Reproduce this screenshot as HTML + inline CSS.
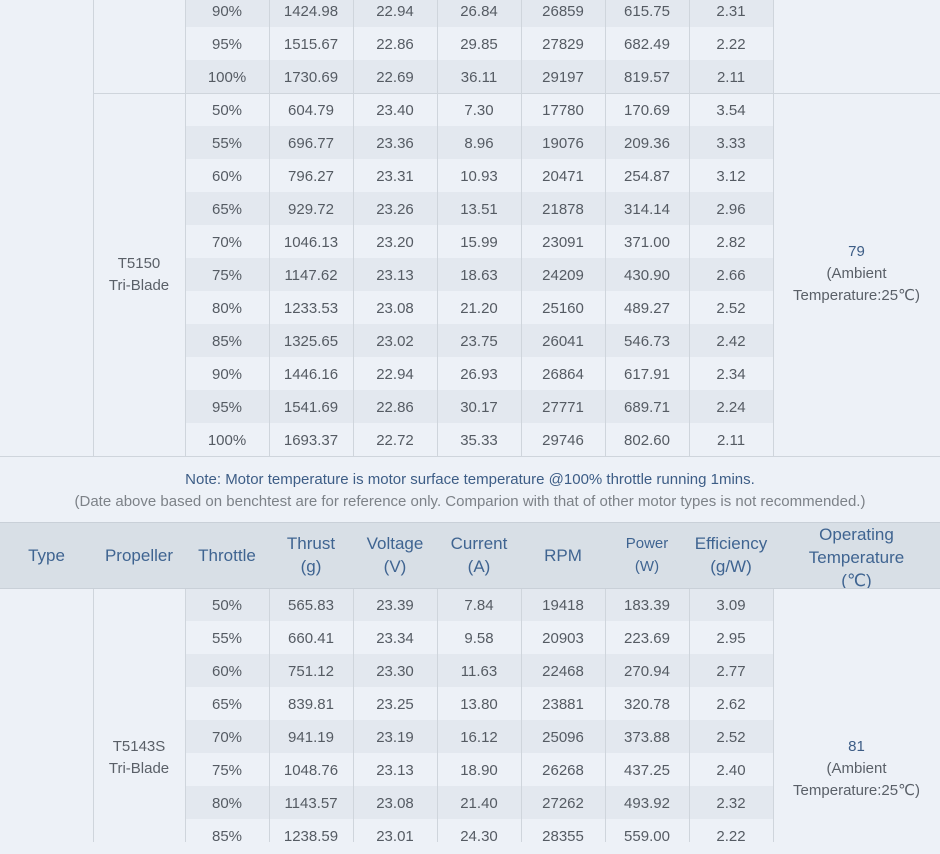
<!DOCTYPE html>
<html><head><meta charset="utf-8"><style>
*{margin:0;padding:0;box-sizing:border-box}
body{width:940px;height:842px;overflow:hidden;background:#edf1f7;font-family:"Liberation Sans","DejaVu Sans",sans-serif;position:relative;color:#555b63}
.r{position:absolute;left:185px;width:588px;height:33px;display:flex;font-size:15px}
.r.g{background:#e3e8ef}
.r div{width:84px;text-align:center;line-height:35px}
.v{position:absolute;width:1px;background:#cfd5dc}
.h{position:absolute;height:1px;background:#cfd5dc;left:0;width:940px}
.t{position:absolute;text-align:center;font-size:15px;line-height:22px;color:#5a6068}
.hd{position:absolute;top:522px;height:66px;left:0;width:940px;background:#d8dfe6;overflow:hidden}
.hd div{position:absolute;top:0;height:66px;display:flex;align-items:center;justify-content:center;text-align:center;color:#3f6491;font-size:17px;line-height:23px}
</style></head><body>
<div class="r g" style="top:-6px"><div>90%</div><div>1424.98</div><div>22.94</div><div>26.84</div><div>26859</div><div>615.75</div><div>2.31</div></div>
<div class="r" style="top:27px"><div>95%</div><div>1515.67</div><div>22.86</div><div>29.85</div><div>27829</div><div>682.49</div><div>2.22</div></div>
<div class="r g" style="top:60px"><div>100%</div><div>1730.69</div><div>22.69</div><div>36.11</div><div>29197</div><div>819.57</div><div>2.11</div></div>
<div class="r" style="top:93px"><div>50%</div><div>604.79</div><div>23.40</div><div>7.30</div><div>17780</div><div>170.69</div><div>3.54</div></div>
<div class="r g" style="top:126px"><div>55%</div><div>696.77</div><div>23.36</div><div>8.96</div><div>19076</div><div>209.36</div><div>3.33</div></div>
<div class="r" style="top:159px"><div>60%</div><div>796.27</div><div>23.31</div><div>10.93</div><div>20471</div><div>254.87</div><div>3.12</div></div>
<div class="r g" style="top:192px"><div>65%</div><div>929.72</div><div>23.26</div><div>13.51</div><div>21878</div><div>314.14</div><div>2.96</div></div>
<div class="r" style="top:225px"><div>70%</div><div>1046.13</div><div>23.20</div><div>15.99</div><div>23091</div><div>371.00</div><div>2.82</div></div>
<div class="r g" style="top:258px"><div>75%</div><div>1147.62</div><div>23.13</div><div>18.63</div><div>24209</div><div>430.90</div><div>2.66</div></div>
<div class="r" style="top:291px"><div>80%</div><div>1233.53</div><div>23.08</div><div>21.20</div><div>25160</div><div>489.27</div><div>2.52</div></div>
<div class="r g" style="top:324px"><div>85%</div><div>1325.65</div><div>23.02</div><div>23.75</div><div>26041</div><div>546.73</div><div>2.42</div></div>
<div class="r" style="top:357px"><div>90%</div><div>1446.16</div><div>22.94</div><div>26.93</div><div>26864</div><div>617.91</div><div>2.34</div></div>
<div class="r g" style="top:390px"><div>95%</div><div>1541.69</div><div>22.86</div><div>30.17</div><div>27771</div><div>689.71</div><div>2.24</div></div>
<div class="r" style="top:423px"><div>100%</div><div>1693.37</div><div>22.72</div><div>35.33</div><div>29746</div><div>802.60</div><div>2.11</div></div>

<div class="r g" style="top:588px"><div>50%</div><div>565.83</div><div>23.39</div><div>7.84</div><div>19418</div><div>183.39</div><div>3.09</div></div>
<div class="r" style="top:621px"><div>55%</div><div>660.41</div><div>23.34</div><div>9.58</div><div>20903</div><div>223.69</div><div>2.95</div></div>
<div class="r g" style="top:654px"><div>60%</div><div>751.12</div><div>23.30</div><div>11.63</div><div>22468</div><div>270.94</div><div>2.77</div></div>
<div class="r" style="top:687px"><div>65%</div><div>839.81</div><div>23.25</div><div>13.80</div><div>23881</div><div>320.78</div><div>2.62</div></div>
<div class="r g" style="top:720px"><div>70%</div><div>941.19</div><div>23.19</div><div>16.12</div><div>25096</div><div>373.88</div><div>2.52</div></div>
<div class="r" style="top:753px"><div>75%</div><div>1048.76</div><div>23.13</div><div>18.90</div><div>26268</div><div>437.25</div><div>2.40</div></div>
<div class="r g" style="top:786px"><div>80%</div><div>1143.57</div><div>23.08</div><div>21.40</div><div>27262</div><div>493.92</div><div>2.32</div></div>
<div class="r" style="top:819px"><div>85%</div><div>1238.59</div><div>23.01</div><div>24.30</div><div>28355</div><div>559.00</div><div>2.22</div></div>

<div class="v" style="left:93px;top:0;height:456px"></div>
<div class="v" style="left:185px;top:0;height:456px"></div>
<div class="v" style="left:269px;top:0;height:456px"></div>
<div class="v" style="left:353px;top:0;height:456px"></div>
<div class="v" style="left:437px;top:0;height:456px"></div>
<div class="v" style="left:521px;top:0;height:456px"></div>
<div class="v" style="left:605px;top:0;height:456px"></div>
<div class="v" style="left:689px;top:0;height:456px"></div>
<div class="v" style="left:773px;top:0;height:456px"></div>
<div class="v" style="left:93px;top:588px;height:254px"></div>
<div class="v" style="left:185px;top:588px;height:254px"></div>
<div class="v" style="left:269px;top:588px;height:254px"></div>
<div class="v" style="left:353px;top:588px;height:254px"></div>
<div class="v" style="left:437px;top:588px;height:254px"></div>
<div class="v" style="left:521px;top:588px;height:254px"></div>
<div class="v" style="left:605px;top:588px;height:254px"></div>
<div class="v" style="left:689px;top:588px;height:254px"></div>
<div class="v" style="left:773px;top:588px;height:254px"></div>
<div class="h" style="top:93px;left:93px;width:847px"></div>
<div class="h" style="top:456px"></div>

<div class="t" style="left:93px;width:92px;top:253px">T5150<br>Tri-Blade</div>
<div class="t" style="left:773px;width:167px;top:241px"><span style="color:#3d5d86">79</span><br>(Ambient<br>Temperature:25℃)</div>
<div class="t" style="left:93px;width:92px;top:736px">T5143S<br>Tri-Blade</div>
<div class="t" style="left:773px;width:167px;top:736px"><span style="color:#3d5d86">81</span><br>(Ambient<br>Temperature:25℃)</div>

<div style="position:absolute;top:471px;left:0;width:940px;text-align:center;font-size:15px;color:#3d5d86">Note: Motor temperature is motor surface temperature @100% throttle running 1mins.</div>
<div style="position:absolute;top:493px;left:0;width:940px;text-align:center;font-size:15px;color:#7d8288">(Date above based on benchtest are for reference only. Comparion with that of other motor types is not recommended.)</div>

<div class="hd">
<div style="left:0;width:93px">Type</div>
<div style="left:93px;width:92px">Propeller</div>
<div style="left:185px;width:84px">Throttle</div>
<div style="left:269px;width:84px">Thrust<br>(g)</div>
<div style="left:353px;width:84px">Voltage<br>(V)</div>
<div style="left:437px;width:84px">Current<br>(A)</div>
<div style="left:521px;width:84px">RPM</div>
<div style="left:605px;width:84px;font-size:15px">Power<br>(W)</div>
<div style="left:689px;width:84px">Efficiency<br>(g/W)</div>
<div style="left:773px;width:167px;align-items:flex-start;padding-top:1px">Operating<br>Temperature<br>(℃)</div>
</div>
<div class="h" style="top:522px;background:#c9d0d8"></div>
<div class="h" style="top:588px;background:#c9d0d8"></div>
</body></html>
